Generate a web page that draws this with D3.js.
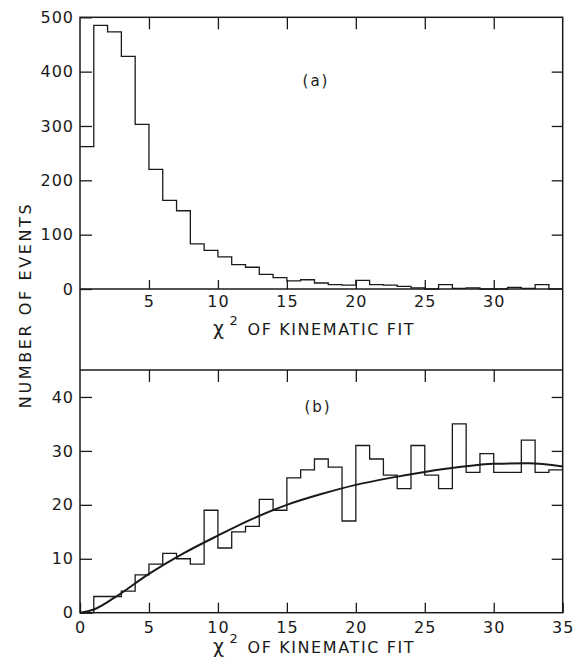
<!DOCTYPE html>
<html>
<head>
<meta charset="utf-8">
<script src="https://cdn.jsdelivr.net/npm/d3@7/dist/d3.min.js"></script>
<style>
    body { margin: 0; background: #fff; }
    text { font-family: "DejaVu Sans", sans-serif; fill: #1a1a1a; }
</style>
</head>
<body>
<div id="chart"></div>
<script>
// Histogram (a): events per unit chi-square bin, bins 0-1 ... 34-35
var countsA = [262, 485, 473, 428, 303, 220, 163, 144, 83, 71, 59, 45, 40, 27, 21,
    15, 17, 11, 8, 7, 16, 8, 7, 5, 2, 0, 8, 1, 2, 0, 0, 3, 1, 8, 0];

// Histogram (b): events per unit chi-square bin, bins 0-1 ... 34-35
var countsB = [0, 3, 3, 4, 7, 9, 11, 10, 9, 19, 12, 15, 16, 21, 19, 25, 26.5, 28.5, 27,
    17, 31, 28.5, 25.5, 23, 31, 25.5, 23, 35, 26, 29.5, 26, 26, 32, 26, 26.5];

// Expected curve drawn over (b)
var curveX = [0, 1, 2.5, 5, 7.5, 10, 12.5, 15, 17.5, 20, 22.5, 25, 27.5, 30, 32.5, 35];
var curveY = [0, 0.6, 2.8, 7.2, 11.0, 14.3, 17.4, 20.0, 22.0, 23.7, 25.0, 26.1, 27.0, 27.6, 27.7, 27.1];

// Tick values
var xTicksA = [5, 10, 15, 20, 25, 30];
var xTicksB = [0, 5, 10, 15, 20, 25, 30, 35];
var yTicksA = [0, 100, 200, 300, 400, 500];
var yTicksB = [0, 10, 20, 30, 40];

var width = 577, height = 658;
var left = 80, right = 562.7;
var topA = 17.3, zeroA = 289, bottomA = 370;
var topB = 370, bottomB = 612.7;

var ink = "#1a1a1a";

var svg = d3.select("#chart").append("svg")
    .attr("width", width)
    .attr("height", height);

// Scales
var x = d3.scaleLinear().domain([0, 35]).range([left, right]);
var yA = d3.scaleLinear().domain([0, 500]).range([zeroA, topA]);
var yB = d3.scaleLinear().domain([0, 45]).range([bottomB, topB]);

// Step line for the histograms
function stepPoints(counts) {
    var pts = counts.map(function (c, i) { return [i, c]; });
    pts.push([counts.length, counts[counts.length - 1]]);
    return pts;
}

// Panel (a) histogram
svg.append("path")
    .datum(stepPoints(countsA))
    .attr("fill", "none")
    .attr("stroke", ink)
    .attr("stroke-width", 1.3)
    .attr("d", d3.line()
        .x(function (d) { return x(d[0]); })
        .y(function (d) { return yA(d[1]); })
        .curve(d3.curveStepAfter));

// Panel (b) histogram
svg.append("path")
    .datum(stepPoints(countsB))
    .attr("fill", "none")
    .attr("stroke", ink)
    .attr("stroke-width", 1.3)
    .attr("d", d3.line()
        .x(function (d) { return x(d[0]); })
        .y(function (d) { return yB(d[1]); })
        .curve(d3.curveStepAfter));

// Panel (b) smooth curve
svg.append("path")
    .datum(curveX.map(function (v, i) { return [v, curveY[i]]; }))
    .attr("fill", "none")
    .attr("stroke", ink)
    .attr("stroke-width", 2)
    .attr("d", d3.line()
        .x(function (d) { return x(d[0]); })
        .y(function (d) { return yB(d[1]); })
        .curve(d3.curveMonotoneX));

// Frame lines
var frame = svg.append("g")
    .attr("stroke", ink)
    .attr("stroke-width", 1.5)
    .attr("fill", "none");

frame.append("rect")
    .attr("x", left).attr("y", topA)
    .attr("width", right - left).attr("height", bottomB - topA);

frame.append("line")
    .attr("x1", left).attr("x2", right)
    .attr("y1", zeroA).attr("y2", zeroA);

frame.append("line")
    .attr("x1", left).attr("x2", right)
    .attr("y1", bottomA).attr("y2", bottomA);

// Helper to add an axis and style it
function addAxis(axis, tx, ty, pad) {
    var g = svg.append("g")
        .attr("transform", "translate(" + tx + "," + ty + ")")
        .call(axis.tickSizeOuter(0).tickPadding(pad));
    g.select(".domain").remove();
    g.selectAll(".tick line").attr("stroke", ink).attr("stroke-width", 1.3);
    g.selectAll(".tick text")
        .attr("fill", ink)
        .style("font-size", "16px")
        .style("letter-spacing", "1px")
        .style("font-family", "DejaVu Sans, sans-serif");
    return g;
}

// Panel (a) axes
addAxis(d3.axisLeft(yA).tickValues(yTicksA).tickSize(-12), left, 0, 6);
addAxis(d3.axisRight(yA).tickValues([100, 200, 300, 400]).tickSize(-11).tickFormat(""), right, 0, 0);
addAxis(d3.axisTop(x).tickValues(xTicksA).tickSize(-12).tickFormat(""), 0, topA, 0);
addAxis(d3.axisBottom(x).tickValues(xTicksA).tickSize(-9), 0, zeroA, 7);

// Panel (b) axes
addAxis(d3.axisLeft(yB).tickValues(yTicksB).tickSize(-12), left, 0, 6);
addAxis(d3.axisRight(yB).tickValues([10, 20, 30, 40]).tickSize(-11).tickFormat(""), right, 0, 0);
addAxis(d3.axisTop(x).tickValues(xTicksA).tickSize(-12).tickFormat(""), 0, topB, 0);
addAxis(d3.axisBottom(x).tickValues(xTicksB).tickSize(-10), 0, bottomB, 9);

// x axis titles
function xTitle(yBase) {
    var t = svg.append("text")
        .attr("x", 213)
        .attr("y", yBase)
        .style("font-size", "16px")
        .style("letter-spacing", "1.6px");
    t.append("tspan").style("font-size", "19px").text("χ");
    t.append("tspan").attr("dx", 4).attr("dy", -10).style("font-size", "13px").text("2");
    t.append("tspan").attr("dx", 8).attr("dy", 10).text("OF KINEMATIC FIT");
}
xTitle(335);
xTitle(653);

// y axis title
svg.append("text")
    .attr("transform", "translate(31,305) rotate(-90)")
    .attr("text-anchor", "middle")
    .style("font-size", "16px")
    .style("letter-spacing", "2.6px")
    .text("NUMBER OF EVENTS");

// Panel labels
svg.append("text")
    .attr("x", 316).attr("y", 86)
    .attr("text-anchor", "middle")
    .style("font-size", "15px")
    .style("letter-spacing", "2px")
    .text("(a)");

svg.append("text")
    .attr("x", 318).attr("y", 412)
    .attr("text-anchor", "middle")
    .style("font-size", "15px")
    .style("letter-spacing", "2px")
    .text("(b)");
</script>
</body>
</html>
